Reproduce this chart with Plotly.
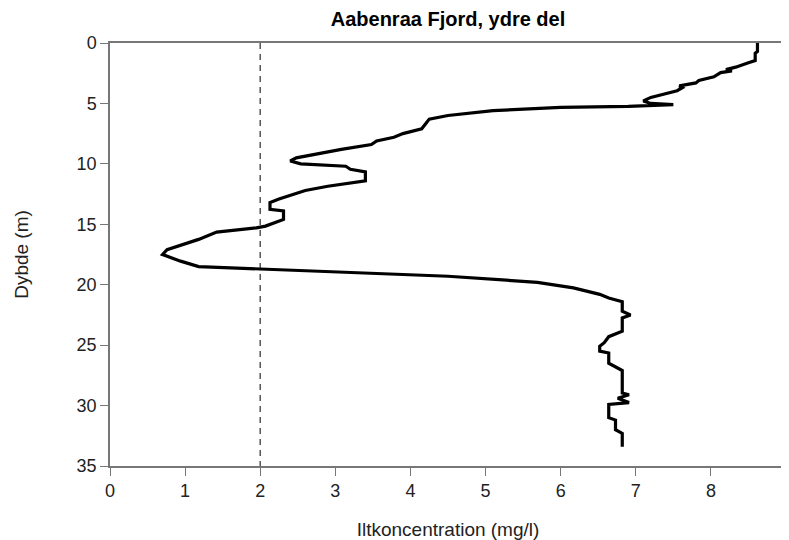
import plotly.graph_objects as go

depth = [0.0, 0.7, 0.85, 1.45, 1.65, 2.0, 2.2, 2.3, 2.45, 2.8, 3.1, 3.3, 3.55, 3.7, 3.95, 4.1,
         4.5, 4.8, 5.0, 5.1, 5.25, 5.33, 5.6, 6.0, 6.3, 6.7, 7.1, 7.5, 7.8, 8.1, 8.4, 8.8,
         9.2, 9.5, 9.76, 10.0, 10.2, 10.45, 10.67, 11.4, 11.85, 12.2, 12.9, 13.2, 13.76,
         13.9, 14.6, 15.15, 15.3, 15.65, 16.25, 16.7, 17.1, 17.5, 18.05, 18.5, 18.7, 18.96,
         19.3, 19.8, 20.26, 20.8, 21.1, 21.4, 22.2, 22.5, 22.75, 23.85, 24.3, 24.8, 25.1,
         25.5, 25.65, 26.5, 26.8, 27.1, 28.96, 29.1, 29.4, 29.75, 29.9, 31.0, 31.2, 32.0,
         32.3, 33.4]
oxygen = [8.62, 8.62, 8.59, 8.59, 8.49, 8.33, 8.20, 8.28, 8.13, 8.04, 7.84, 7.80, 7.58, 7.62,
          7.55, 7.45, 7.20, 7.10, 7.20, 7.50, 6.90, 6.00, 5.10, 4.50, 4.25, 4.20, 4.15, 3.90,
          3.78, 3.55, 3.48, 3.08, 2.72, 2.48, 2.40, 2.54, 3.14, 3.20, 3.40, 3.40, 2.90, 2.60,
          2.25, 2.13, 2.13, 2.31, 2.31, 2.07, 1.95, 1.42, 1.18, 0.94, 0.76, 0.70, 0.94, 1.18,
          2.01, 3.32, 4.50, 5.69, 6.17, 6.52, 6.64, 6.82, 6.82, 6.93, 6.82, 6.82, 6.64, 6.58,
          6.52, 6.52, 6.64, 6.64, 6.73, 6.82, 6.82, 6.91, 6.76, 6.91, 6.64, 6.64, 6.73, 6.73,
          6.82, 6.82]

threshold = 2
threshold_depths = [0, 35]
x_ticks = [0, 1, 2, 3, 4, 5, 6, 7, 8, 9]
y_ticks = [0, 5, 10, 15, 20, 25, 30, 35]

title = "Aabenraa Fjord, ydre del"
x_title = "Iltkoncentration (mg/l)"
y_title = "Dybde (m)"

FONT = "Liberation Sans, Arial, sans-serif"

fig = go.Figure()
fig.add_trace(go.Scatter(
    x=[threshold, threshold], y=threshold_depths, mode="lines",
    line=dict(color="#555555", width=1.5, dash="6px,5px"), showlegend=False,
    hoverinfo="skip"))
fig.add_trace(go.Scatter(
    x=oxygen, y=depth, mode="lines",
    line=dict(color="black", width=3.2), showlegend=False))

axis_common = dict(
    showline=True, linecolor="#777777", linewidth=1.5, mirror=True,
    ticks="outside", ticklen=8, tickwidth=1.2, tickcolor="#777777",
    showgrid=False, zeroline=False, automargin=False, ticklabeloverflow="allow",
    tickfont=dict(family=FONT, size=18, color="#222222"),
)

fig.update_layout(
    width=781, height=532,
    margin=dict(l=102, r=3, t=35, b=74),
    paper_bgcolor="white", plot_bgcolor="white",
    title=dict(text="<b>" + title + "</b>", x=0.5634, xanchor="center", y=0.979, yanchor="middle",
               font=dict(family=FONT, size=20, color="black")),
    xaxis=dict(range=[0, 9], tickvals=x_ticks, **axis_common,
               title=dict(text=x_title, standoff=24,
                          font=dict(family=FONT, size=19, color="#222222"))),
    yaxis=dict(range=[35, 0], tickvals=y_ticks, **axis_common,
               title=dict(text=y_title, standoff=43,
                          font=dict(family=FONT, size=19, color="#222222"))),
)

fig.write_html("out.html")
